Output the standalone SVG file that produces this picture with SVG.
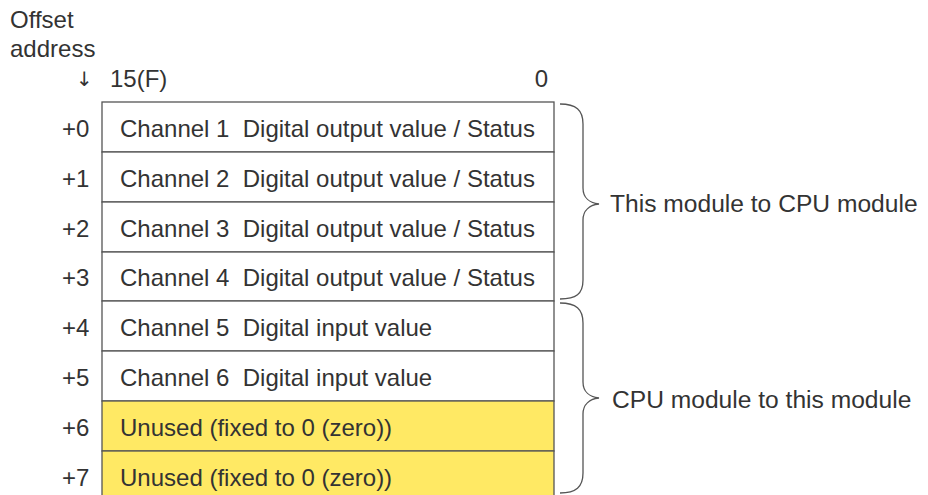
<svg xmlns="http://www.w3.org/2000/svg" width="928" height="495" viewBox="0 0 928 495">
<style>
text{font-family:"Liberation Sans",Arial,sans-serif;font-size:24px;fill:#333;white-space:pre}
.cell{fill:#fff;stroke:#555;stroke-width:1.3}
.y{fill:#FFE964}
.lbl{text-anchor:end}
.br{fill:none;stroke:#555;stroke-width:1.3}
.bl{font-size:24.6px}
.arr{font-family:"DejaVu Sans",sans-serif;font-size:20px}
</style>
<rect width="928" height="495" fill="#fff"/>
<g id="header">
<text x="10" y="28">Offset</text>
<text x="10" y="57">address</text>
<text x="76" y="86" class="arr">↓</text>
<text x="110" y="87">15(F)</text>
<text x="548" y="87" class="lbl">0</text>
</g>
<g id="row0"><rect class="cell" x="102" y="102" width="452" height="50"/><text x="62" y="137">+0</text><text x="120" y="137" xml:space="preserve">Channel 1  Digital output value / Status</text></g>
<g id="row1"><rect class="cell" x="102" y="152" width="452" height="50"/><text x="62" y="187">+1</text><text x="120" y="187" xml:space="preserve">Channel 2  Digital output value / Status</text></g>
<g id="row2"><rect class="cell" x="102" y="202" width="452" height="50"/><text x="62" y="237">+2</text><text x="120" y="237" xml:space="preserve">Channel 3  Digital output value / Status</text></g>
<g id="row3"><rect class="cell" x="102" y="252" width="452" height="49"/><text x="62" y="286">+3</text><text x="120" y="286" xml:space="preserve">Channel 4  Digital output value / Status</text></g>
<g id="row4"><rect class="cell" x="102" y="301" width="452" height="50"/><text x="62" y="336">+4</text><text x="120" y="336" xml:space="preserve">Channel 5  Digital input value</text></g>
<g id="row5"><rect class="cell" x="102" y="351" width="452" height="50"/><text x="62" y="386">+5</text><text x="120" y="386" xml:space="preserve">Channel 6  Digital input value</text></g>
<g id="row6"><rect class="cell y" x="102" y="401" width="452" height="50"/><text x="62" y="436">+6</text><text x="120" y="436">Unused (fixed to 0 (zero))</text></g>
<g id="row7"><rect class="cell y" x="102" y="451" width="452" height="50"/><text x="62" y="486">+7</text><text x="120" y="486">Unused (fixed to 0 (zero))</text></g>
<g id="connectors">
<path class="br" d="M560,104 C576,104 583,110 583,124 L583,188 C583,198 590,203 599,204 C590,205 583,210 583,220 L583,280 C583,294 576,299 560,299"/>
<path class="br" d="M560,303 C576,303 583,309 583,323 L583,382 C583,392 590,397 599,398 C590,399 583,404 583,414 L583,473 C583,487 576,493 560,493"/>
</g>
<g id="braceLabels">
<text x="610" y="212" class="bl">This module to CPU module</text>
<text x="612" y="408" class="bl">CPU module to this module</text>
</g>
</svg>
